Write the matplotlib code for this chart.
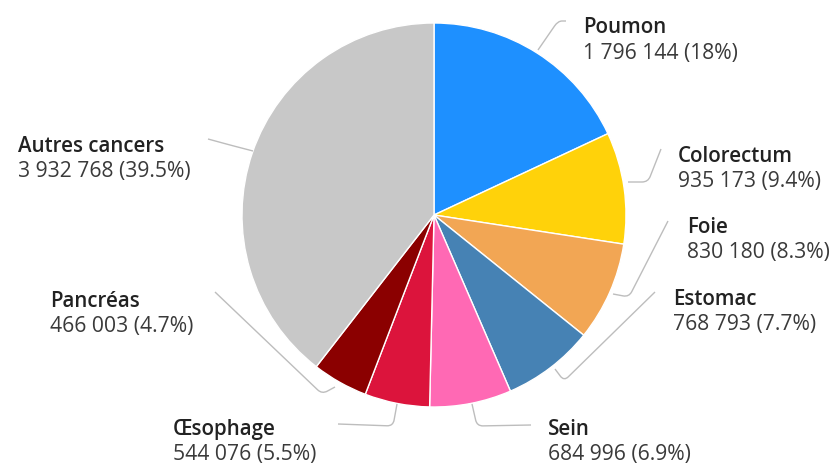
import matplotlib
matplotlib.use("Agg")
import matplotlib.pyplot as plt
from matplotlib.path import Path
from matplotlib.patches import PathPatch

# Data
categories = ["Poumon", "Colorectum", "Foie", "Estomac", "Sein",
              "Œsophage", "Pancréas", "Autres cancers"]
values = [1796144, 935173, 830180, 768793, 684996, 544076, 466003, 3932768]
value_labels = ["1 796 144 (18%)", "935 173 (9.4%)", "830 180 (8.3%)",
                "768 793 (7.7%)", "684 996 (6.9%)", "544 076 (5.5%)",
                "466 003 (4.7%)", "3 932 768 (39.5%)"]
colors = ["#1E90FF", "#FFD20A", "#F2A654", "#4682B4", "#FF69B4",
          "#DC143C", "#8B0000", "#C8C8C8"]

# Layout (pixel coords): label x, name baseline, value baseline
label_pos = [(583, 33, 59), (678, 162, 187), (687, 233, 258), (673, 305, 330),
             (548, 435, 460), (173, 435, 460), (50, 307, 332), (18, 152, 177)]
# leader lines: start, corner, end
leaders = [
    [(538, 51), (558, 22), (566, 22)],
    [(628, 183), (648, 183), (661, 150)],
    [(613, 295), (629, 298), (668, 222)],
    [(555, 370), (564, 382), (655, 293)],
    [(472, 405), (477, 427), (531, 426)],
    [(397, 405), (393, 427), (338, 425)],
    [(335, 388), (322, 395), (215, 293)],
    [(253, 152), (230, 146), (208, 140)],
]

W, H = 832, 464
fig = plt.figure(figsize=(W / 100, H / 100), dpi=100)
ax = fig.add_axes([0, 0, 1, 1])

ax.pie(values, colors=colors, center=(434, 216), radius=192,
       startangle=-90, counterclock=True,
       wedgeprops=dict(edgecolor="white", linewidth=1.0))
ax.set_xlim(0, W)
ax.set_ylim(H, 0)
ax.set_aspect("auto")
ax.axis("off")


def rounded(p0, p1, p2, r=6):
    # polyline with a rounded corner at p1
    def toward(a, b, d):
        dx, dy = b[0] - a[0], b[1] - a[1]
        n = (dx * dx + dy * dy) ** 0.5 or 1
        d = min(d, n / 2)
        return (a[0] + dx * d / n, a[1] + dy * d / n)
    a = toward(p1, p0, r)
    b = toward(p1, p2, r)
    verts = [p0, a, p1, b, p2]
    codes = [Path.MOVETO, Path.LINETO, Path.CURVE3, Path.CURVE3, Path.LINETO]
    return Path(verts, codes)


for pts in leaders:
    ax.add_patch(PathPatch(rounded(*pts), facecolor="none",
                           edgecolor="#BDBDBD", linewidth=1.0))

for name, val, (x, yn, yv) in zip(categories, value_labels, label_pos):
    ax.text(x, yn, name, fontsize=14.8, fontweight="semibold",
            family="Open Sans", color="#222222", va="baseline", ha="left")
    ax.text(x, yv, val, fontsize=15.2, family="Open Sans",
            color="#3A3A3A", va="baseline", ha="left")

fig.savefig("out.png", dpi=100)
